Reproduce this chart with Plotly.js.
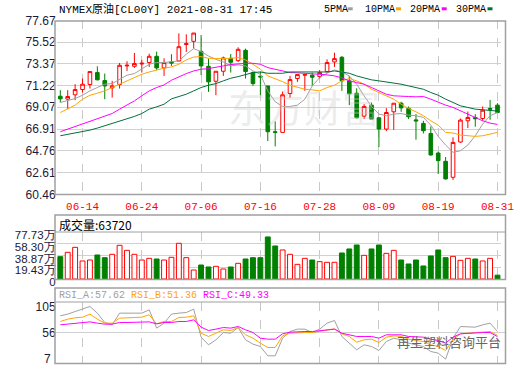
<!DOCTYPE html>
<html><head><meta charset="utf-8">
<script src="https://cdn.plot.ly/plotly-3.0.1.min.js"></script>
<style>html,body{margin:0;padding:0;background:#fff}#chart{width:520px;height:365px}</style>
</head><body><div id="chart"></div>
<script>
// ---------- DATA ----------
const dates = ['06-09','06-10','06-11','06-14','06-15','06-16','06-17','06-18','06-21','06-22','06-23','06-24','06-25','06-28','06-29','06-30',
'07-01','07-02','07-05','07-06','07-07','07-08','07-09','07-12','07-13','07-14','07-15','07-16','07-19','07-20','07-21','07-22','07-23','07-26','07-27','07-28','07-29','07-30',
'08-02','08-03','08-04','08-05','08-06','08-09','08-10','08-11','08-12','08-13','08-16','08-17','08-18','08-19','08-20','08-23','08-24','08-25','08-26','08-27','08-30','08-31'];

const openP  = [70.16,69.87,70.30,70.82,71.32,72.50,71.71,70.99,71.32,73.16,73.12,73.35,73.49,74.11,72.96,73.55,73.65,75.28,75.59,74.60,73.12,71.64,72.63,73.91,73.68,74.70,72.50,72.14,71.18,66.65,66.58,70.43,71.91,72.24,72.24,72.10,72.60,73.55,74.01,71.68,70.46,68.19,69.28,68.03,66.91,68.62,69.47,68.95,67.82,67.47,66.48,64.54,63.72,62.14,65.63,67.73,68.06,67.96,68.95,69.28];
const highP  = [70.76,70.76,71.35,71.91,72.60,73.12,72.40,71.68,73.45,73.62,74.44,73.75,74.37,74.57,73.91,74.31,76.38,76.28,76.41,76.21,73.88,72.63,74.08,74.34,75.00,74.87,72.60,72.60,71.18,67.67,70.63,72.17,72.30,72.30,72.50,72.76,73.81,74.47,74.14,72.17,70.95,69.38,69.54,68.03,68.98,69.47,69.61,69.14,68.39,67.73,67.17,64.67,64.15,66.09,67.96,68.65,68.39,69.15,69.80,69.47];
const lowP   = [69.54,68.88,69.77,70.53,70.92,71.74,69.87,70.03,70.92,72.66,72.96,72.50,73.06,72.76,72.17,73.16,73.58,74.54,74.87,72.27,70.59,70.26,72.17,72.50,73.55,71.91,71.18,70.26,65.73,65.20,66.58,70.00,71.58,70.69,71.18,71.91,72.50,73.06,70.69,69.28,67.96,67.90,67.90,65.13,66.71,66.84,68.62,67.90,65.86,66.48,64.28,62.47,61.91,61.88,65.56,67.01,67.14,67.73,67.83,68.49];
const closeP = [69.90,70.13,70.82,71.35,72.60,71.78,71.18,71.18,73.22,73.22,73.39,73.42,74.11,72.96,73.49,73.45,75.06,75.35,76.41,73.16,71.58,72.63,73.95,73.52,74.80,72.60,71.41,72.07,66.65,66.58,70.30,71.81,72.30,72.30,72.04,72.50,73.49,73.88,71.68,70.39,68.03,69.15,67.90,66.91,68.55,69.47,69.01,68.13,67.72,66.75,64.35,63.79,61.98,65.59,67.80,68.06,67.93,68.78,68.88,68.55];

const ma5  = [69.54,69.70,69.93,70.26,70.69,71.02,71.35,71.41,71.84,72.24,72.40,72.83,73.32,73.49,73.49,73.58,73.65,74.31,74.87,74.57,74.14,73.81,73.55,73.16,73.26,73.16,72.66,72.33,70.69,69.61,69.15,69.15,69.28,69.87,71.18,72.00,72.43,72.76,72.56,72.17,71.35,70.20,69.15,68.39,68.23,68.39,68.45,68.29,68.23,68.06,67.30,66.19,65.33,64.61,64.77,65.33,66.25,67.40,68.23,68.55];
const ma10 = [68.55,68.88,69.28,69.87,70.26,70.46,70.69,71.02,71.35,71.68,72.00,72.33,72.56,72.76,72.93,73.06,73.32,73.75,74.04,74.08,73.91,73.88,73.88,73.91,73.98,73.75,73.32,72.83,72.17,71.91,71.60,71.25,71.02,70.85,70.79,70.69,71.02,71.25,71.68,71.91,71.68,71.35,70.85,70.53,70.20,69.87,69.37,68.95,68.62,68.23,67.73,67.30,66.58,66.52,66.32,66.25,66.19,66.25,66.42,66.58];
const ma20 = [66.65,66.91,67.17,67.40,67.63,67.90,68.16,68.45,68.88,69.28,69.70,70.20,70.69,71.02,71.28,71.74,72.10,72.40,72.66,72.83,72.89,72.99,73.16,73.29,73.39,73.42,73.42,73.32,72.99,72.83,72.66,72.50,72.47,72.40,72.33,72.33,72.27,72.17,71.97,71.68,71.51,71.35,71.02,70.69,70.36,70.20,70.20,70.13,70.10,70.13,69.87,69.54,69.28,69.05,68.72,68.39,68.06,67.73,67.50,67.37];
const ma30 = [66.25,66.38,66.48,66.65,66.81,67.01,67.24,67.44,67.73,67.96,68.16,68.45,68.88,69.11,69.37,69.90,70.13,70.36,70.69,71.02,71.25,71.41,71.68,71.94,72.10,72.33,72.50,72.56,72.43,72.43,72.43,72.56,72.56,72.50,72.50,72.50,72.56,72.66,72.56,72.43,72.17,71.94,71.78,71.68,71.58,71.48,71.35,71.18,71.02,70.85,70.53,70.26,69.87,69.54,69.21,69.05,68.88,68.82,68.72,68.69];

// volume in 万 (10k contracts)
const volume = [37.2,44.4,52.7,30.0,31.6,40.0,35.5,41.1,56.1,47.7,41.1,31.6,34.4,33.3,31.6,36.1,59.4,35.5,15.0,23.3,20.0,21.1,16.7,20.0,26.1,33.3,35.5,35.5,70.0,55.0,48.3,41.1,24.4,34.4,31.6,28.9,27.8,27.8,43.3,50.0,56.6,39.4,50.0,56.6,42.7,47.7,31.6,25.0,31.6,21.7,38.3,48.3,35.5,37.7,31.1,34.4,33.3,30.0,34.4,6.372];
const volUp  = [0,1,1,1,1,0,0,1,1,1,1,1,1,0,1,1,1,1,1,0,0,1,1,0,1,0,0,0,0,0,1,1,1,1,0,1,1,1,0,0,0,1,0,0,1,1,0,0,0,0,0,0,0,1,1,1,0,1,1,0];

const rsiA = [82.8,85.5,89.7,93.5,97.8,87.1,72.1,68.3,87.1,87.1,87.1,87.1,92.4,63.0,71.0,85.5,87.1,88.1,93.5,48.5,36.2,44.2,56.0,54.9,64.0,44.2,37.3,
33.5,18.5,18.5,46.9,57.6,61.4,61.4,56.0,61.4,71.0,75.3,49.6,38.9,28.2,36.2,33.5,27.1,41.5,46.9,44.2,38.9,36.2,33.5,25.5,22.8,13.2,46.9,65.6,65.6,64.6,68.3,71.0,57.62];
const rsiB = [73.7,77.4,79.6,80.6,85.5,77.4,71.0,71.0,79.0,79.0,80.1,80.6,84.4,69.9,73.7,73.7,80.1,80.6,82.8,54.9,49.6,54.9,60.3,59.2,64.0,52.3,46.9,
38.9,31.9,31.9,50.6,54.9,56.0,56.0,56.0,57.6,60.3,61.9,53.9,49.6,40.5,44.2,45.3,39.9,48.5,50.6,49.6,45.3,43.1,41.5,36.2,33.5,27.1,44.2,53.9,54.9,54.9,56.0,57.6,51.36];
const rsiC = [68.3,69.4,71.0,72.1,73.1,71.0,69.4,69.4,72.1,72.1,72.1,72.1,73.1,69.9,72.1,72.1,73.7,73.7,76.3,64.6,59.2,61.4,64.0,63.0,65.6,60.3,56.0,
46.9,45.3,45.3,53.9,56.5,57.6,57.6,57.6,58.7,60.3,61.4,54.9,52.3,49.6,49.6,49.6,46.9,52.3,52.3,52.3,49.6,49.6,48.5,45.3,43.1,38.9,48.5,53.9,54.9,54.9,56.0,56.0,49.33];

const priceTicks = [60.46,62.61,64.76,66.91,69.07,71.22,73.37,75.52,77.67];
const volTicks = [0,19.43,38.87,58.30,77.73];
const volTickText = ['0','19.43万','38.87万','58.30万','77.73万'];
const rsiTickText = ['7','56','105'];
const dateTicks = ['06-14','06-24','07-06','07-16','07-28','08-09','08-19','08-31'];

const titleText = 'NYMEX原油[CL00Y] 2021-08-31 17:45';
const volHeader = '成交量:63720';
const rsiHeader = ['RSI_A:57.62','RSI_B:51.36','RSI_C:49.33'];

// ---------- LAYOUT ----------
const W = 520, H = 365;
const px = x => x / W;
const py = y => 1 - y / H;
const RED = '#ff0000', GRN = '#008000';
const C5 = '#a0a0a0', C10 = '#ffa500', C20 = '#ff00ff', C30 = '#00703a';
const mono = '"Liberation Mono", "Noto Sans CJK SC", monospace';
const sans = '"Liberation Sans", Arial, sans-serif';
const xDom = [px(56.6), px(501.2)];

const traces = [
  {type:'candlestick', x:dates, open:openP, high:highP, low:lowP, close:closeP, xaxis:'x', yaxis:'y',
   whiskerwidth:0,
   increasing:{line:{color:RED,width:1}, fillcolor:'#ffffff'},
   decreasing:{line:{color:GRN,width:1}, fillcolor:GRN}, hoverinfo:'skip'},
  {type:'scatter', mode:'lines', x:dates, y:ma5,  line:{color:C5, width:1}, xaxis:'x', yaxis:'y'},
  {type:'scatter', mode:'lines', x:dates, y:ma10, line:{color:C10, width:1}, xaxis:'x', yaxis:'y'},
  {type:'scatter', mode:'lines', x:dates, y:ma20, line:{color:C20, width:1}, xaxis:'x', yaxis:'y'},
  {type:'scatter', mode:'lines', x:dates, y:ma30, line:{color:C30, width:1}, xaxis:'x', yaxis:'y'},
  {type:'bar', x:dates, y:volume, xaxis:'x2', yaxis:'y2', width:0.66,
   marker:{color: volUp.map(u => u ? '#ffffff' : GRN), line:{color: volUp.map(u => u ? RED : GRN), width:1}}},
  {type:'scatter', mode:'lines', x:dates, y:rsiA, line:{color:C5, width:1}, xaxis:'x3', yaxis:'y3'},
  {type:'scatter', mode:'lines', x:dates, y:rsiB, line:{color:C10, width:1}, xaxis:'x3', yaxis:'y3'},
  {type:'scatter', mode:'lines', x:dates, y:rsiC, line:{color:C20, width:1}, xaxis:'x3', yaxis:'y3'}
];

const xCommon = {type:'category', categoryorder:'array', categoryarray:dates, range:[-0.5, dates.length-0.5],
  tickmode:'array', tickvals:dateTicks, ticktext:dateTicks, showgrid:true, gridcolor:'#c8c8c8', griddash:'dash', gridwidth:1,
  zeroline:false, showline:false, ticks:'', domain:xDom, fixedrange:true};

// RSI label offsets (labels sit inside the panel edges)
const rsiRange = [7, 105];
const rsiUnitsPerPx = (rsiRange[1]-rsiRange[0]) / 61;
const tickFont = {family:sans, size:12, color:'#1a1a3a'};

const layout = {
  width:W, height:H, margin:{l:0,r:0,t:0,b:0}, paper_bgcolor:'#fff', plot_bgcolor:'rgba(0,0,0,0)',
  showlegend:false, hovermode:false,
  font:{family:sans, size:12, color:'#1a1a3a'},
  xaxis: Object.assign({}, xCommon, {anchor:'y', rangeslider:{visible:false}, showticklabels:true,
    tickfont:{family:mono, size:11, color:RED}, ticklabelstandoff:4}),
  xaxis2: Object.assign({}, xCommon, {anchor:'y2', matches:'x', showticklabels:false}),
  xaxis3: Object.assign({}, xCommon, {anchor:'y3', matches:'x', showticklabels:false}),
  yaxis: {domain:[py(194.3), py(20.3)], range:[priceTicks[0], priceTicks[priceTicks.length-1]],
    tickmode:'array', tickvals:priceTicks, ticktext:priceTicks.map(v => v.toFixed(2)), ticklabeloverflow:'allow',
    showgrid:true, gridcolor:'#d0d0d0', zeroline:false, ticks:'', tickfont:tickFont, fixedrange:true},
  yaxis2: {domain:[py(279), py(232.3)], range:[0, 77.73], tickmode:'array', tickvals:volTicks, ticktext:volTickText,
    ticklabeloverflow:'allow',
    showgrid:true, gridcolor:'#d0d0d0', zeroline:false, ticks:'', ticklabelshift:3, tickfont:{family:sans, size:11.5, color:'#1a1a3a'}, fixedrange:true},
  yaxis3: {domain:[py(363), py(302)], range:rsiRange, tickmode:'array', ticklabeloverflow:'allow',
    tickvals:[56, rsiRange[1] - 4.7*rsiUnitsPerPx], ticktext:rsiTickText.slice(1),
    showgrid:false, zeroline:false, ticks:'', tickfont:tickFont, fixedrange:true},
  shapes: [
    // panel frames
    {type:'rect', xref:'paper', yref:'paper', x0:px(55), x1:px(505.5), y0:py(194.5), y1:py(21), line:{color:'#a0a0a0', width:1.5}},
    {type:'rect', xref:'paper', yref:'paper', x0:px(55), x1:px(505.5), y0:py(279.5), y1:py(215), line:{color:'#a0a0a0', width:1.5}},
    {type:'line', xref:'paper', yref:'paper', x0:px(55), x1:px(505.5), y0:py(232), y1:py(232), line:{color:'#a0a0a0', width:1}},
    {type:'rect', xref:'paper', yref:'paper', x0:px(55), x1:px(505.5), y0:py(363.5), y1:py(288), line:{color:'#a0a0a0', width:1.5}},
    {type:'line', xref:'paper', yref:'paper', x0:px(55), x1:px(505.5), y0:py(302), y1:py(302), line:{color:'#a0a0a0', width:1}},
    // RSI mid line
    {type:'line', xref:'paper', yref:'y3', x0:px(55), x1:px(505.5), y0:56, y1:56, line:{color:'#d0d0d0', width:1}, layer:'below'},
    // legend swatches
    {type:'rect', xref:'paper', yref:'paper', x0:px(347.7), x1:px(352.7), y0:py(10.3), y1:py(7.3), line:{width:0}, fillcolor:C5},
    {type:'rect', xref:'paper', yref:'paper', x0:px(396), x1:px(401), y0:py(10.3), y1:py(7.3), line:{width:0}, fillcolor:C10},
    {type:'rect', xref:'paper', yref:'paper', x0:px(441.7), x1:px(446.7), y0:py(10.3), y1:py(7.3), line:{width:0}, fillcolor:C20},
    {type:'rect', xref:'paper', yref:'paper', x0:px(487.5), x1:px(492.5), y0:py(10.3), y1:py(7.3), line:{width:0}, fillcolor:C30}
  ],
  annotations: [
    {text:'东方财富', xref:'paper', yref:'paper', x:px(226), y:py(106), xanchor:'left', yanchor:'middle', showarrow:false,
     font:{family:'"Noto Sans CJK SC"', size:38, color:'rgba(200,200,205,0.35)'}},
    {text:titleText, xref:'paper', yref:'paper', x:px(57), y:py(9), xanchor:'left', yanchor:'middle', showarrow:false,
     font:{family:mono, size:11, color:'#000'}},
    {text:'5PMA', xref:'paper', yref:'paper', x:px(321.5), y:py(9), xanchor:'left', yanchor:'middle', showarrow:false, font:{family:mono, size:10, color:'#000'}},
    {text:'10PMA', xref:'paper', yref:'paper', x:px(363), y:py(9), xanchor:'left', yanchor:'middle', showarrow:false, font:{family:mono, size:10, color:'#000'}},
    {text:'20PMA', xref:'paper', yref:'paper', x:px(408), y:py(9), xanchor:'left', yanchor:'middle', showarrow:false, font:{family:mono, size:10, color:'#000'}},
    {text:'30PMA', xref:'paper', yref:'paper', x:px(454), y:py(9), xanchor:'left', yanchor:'middle', showarrow:false, font:{family:mono, size:10, color:'#000'}},
    {text:volHeader, xref:'paper', yref:'paper', x:px(57), y:py(224), xanchor:'left', yanchor:'middle', showarrow:false,
     font:{family:'"Noto Sans CJK SC", sans-serif', size:12, color:'#000'}},
    {text:'<span style="color:'+C5+'">'+rsiHeader[0]+'</span> <span style="color:'+C10+'">'+rsiHeader[1]+'</span> <span style="color:'+C20+'">'+rsiHeader[2]+'</span>',
     xref:'paper', yref:'paper', x:px(57), y:py(295), xanchor:'left', yanchor:'middle', showarrow:false, font:{family:mono, size:10, color:C5}},
    // lowest RSI scale label (kept inside the panel edge)
    {text:rsiTickText[0], xref:'paper', yref:'paper', x:px(53), y:py(358.5), xanchor:'right', yanchor:'middle', showarrow:false,
     font:tickFont},
    {text:'再生塑料咨询平台', xref:'paper', yref:'paper', x:px(503), y:py(341), xanchor:'right', yanchor:'middle', showarrow:false,
     font:{family:'"Noto Sans CJK SC"', size:13, color:'#666'}}
  ]
};

Plotly.newPlot('chart', traces, layout, {staticPlot:true, displayModeBar:false});
</script>
</body></html>
